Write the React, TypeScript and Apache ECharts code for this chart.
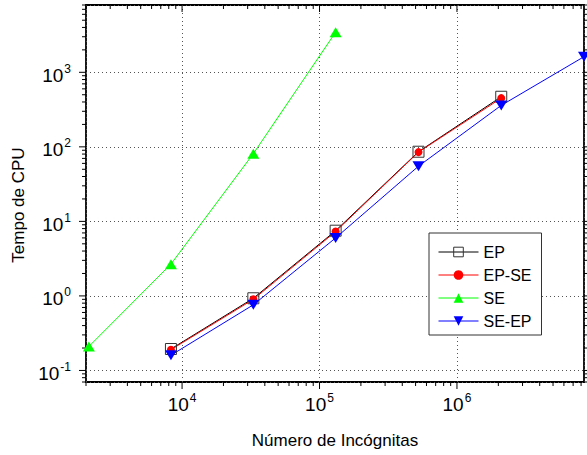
import React, { useEffect, useRef } from "react";
import * as echarts from "echarts";

const FONT = "'Liberation Sans', Arial, Helvetica, sans-serif";

// Number of unknowns (x) per run
const xSE = [2100, 8300, 33000, 131000];
const xEP = [8300, 33000, 131000, 525000, 2100000];
const xSEEP = [8300, 33000, 131000, 525000, 2100000, 8400000];

// CPU time
const yEP = [0.194, 0.93, 7.5, 86, 470];
const yEPSE = [0.19, 0.9, 7.3, 85, 450];
const ySE = [0.21, 2.67, 81, 3450];
const ySEEP = [0.16, 0.76, 6.0, 55, 360, 1620];

const seriesNames = ["EP", "EP-SE", "SE", "SE-EP"];
const xTitle = "Número de Incógnitas";
const yTitle = "Tempo de CPU";

const X_MIN = 2000;
const X_MAX = 8400000;
const Y_MIN = 0.07;
const Y_MAX = 8000;

// decorative tick positions (values), minor and major
function logTicks(min: number, max: number) {
  const out: [number, number][] = [];
  const lo = Math.floor(Math.log10(min));
  const hi = Math.ceil(Math.log10(max));
  for (let e = lo; e <= hi; e++) {
    for (let m = 1; m <= 9; m++) {
      const v = m * Math.pow(10, e);
      if (v >= min * 0.999 && v <= max * 1.001) out.push([v, m === 1 ? 1 : 0]);
    }
  }
  return out;
}

function pair(xs: number[], ys: number[]) {
  return xs.map((x, i) => [x, ys[i]]);
}

export default function App() {
  const ref = useRef<HTMLDivElement>(null);
  useEffect(() => {
    if (!ref.current) return;
    const chart = echarts.init(ref.current, undefined, { renderer: "svg" });

    const xt = logTicks(X_MIN, X_MAX).map(([v, m]) => [v, 1, 0, m]);
    const yt = logTicks(Y_MIN, Y_MAX).map(([v, m]) => [10000, v, 1, m]);

    const labelFmt = (v: number) => {
      const e = Math.round(Math.log10(v));
      return `{b|10}{s|${e}}`;
    };
    const rich = {
      b: { fontSize: 19, fontFamily: FONT, color: "#000", padding: [6, 0, 0, 0] },
      s: { fontSize: 12, fontFamily: FONT, color: "#000", padding: [0, 0, 7, 1] },
    };

    chart.setOption({
      animation: false,
      backgroundColor: "#fff",
      grid: {
        left: 86,
        right: 3,
        top: 5,
        bottom: 73,
        show: true,
        borderColor: "#000",
        borderWidth: 1.8,
        backgroundColor: "transparent",
      },
      legend: {
        data: seriesNames,
        orient: "vertical",
        left: 429,
        top: 233,
        itemWidth: 40,
        itemHeight: 12,
        itemGap: 7,
        padding: [11, 10, 6, 9],
        backgroundColor: "#fff",
        borderColor: "#333",
        borderWidth: 1,
        borderRadius: 0,
        lineStyle: { width: 1 },
        itemStyle: { borderWidth: 1 },
        textStyle: { fontFamily: FONT, fontSize: 16, color: "#000" },
      },
      graphic: [
        {
          type: "text",
          x: 18,
          y: 205,
          rotation: Math.PI / 2,
          style: {
            text: yTitle,
            fontFamily: FONT,
            fontSize: 17,
            fill: "#000",
            align: "center",
            verticalAlign: "middle",
          },
        },
      ],
      xAxis: {
        type: "log",
        logBase: 10,
        min: X_MIN,
        max: X_MAX,
        name: xTitle,
        nameLocation: "middle",
        nameGap: 50,
        nameTextStyle: { fontFamily: FONT, fontSize: 17, color: "#000" },
        axisLine: { show: false },
        axisTick: { show: false },
        axisLabel: {
          formatter: labelFmt,
          rich,
          margin: 7,
          showMinLabel: false,
          showMaxLabel: false,
        },
        splitLine: { show: true, lineStyle: { color: "#555", type: [1, 3], width: 1 } },
        minorTick: { show: false },
      },
      yAxis: {
        type: "log",
        logBase: 10,
        min: Y_MIN,
        max: Y_MAX,
        axisLine: { show: false },
        axisTick: { show: false },
        axisLabel: {
          formatter: labelFmt,
          rich,
          margin: 15,
          showMinLabel: false,
          showMaxLabel: false,
        },
        splitLine: { show: true, lineStyle: { color: "#555", type: [1, 3], width: 1 } },
      },
      series: [
        {
          name: "EP",
          type: "line",
          data: pair(xEP, yEP),
          symbol: "rect",
          symbolSize: 11,
          lineStyle: { color: "#000", width: 1 },
          itemStyle: { color: "rgba(255,255,255,0)", borderColor: "#333", borderWidth: 1 },
        },
        {
          name: "EP-SE",
          type: "line",
          data: pair(xEP, yEPSE),
          symbol: "circle",
          symbolSize: 8,
          lineStyle: { color: "#ff0000", width: 1 },
          itemStyle: { color: "#ff0000" },
        },
        {
          name: "SE",
          type: "line",
          data: pair(xSE, ySE),
          symbol: "triangle",
          symbolSize: [12, 10],
          lineStyle: { color: "#00ff00", width: 1 },
          itemStyle: { color: "#00ff00" },
        },
        {
          name: "SE-EP",
          type: "line",
          data: pair(xSEEP, ySEEP),
          symbol: "triangle",
          symbolRotate: 180,
          symbolSize: [12, 10],
          lineStyle: { color: "#0000ff", width: 1 },
          itemStyle: { color: "#0000ff" },
        },
        {
          name: "ticks",
          type: "custom",
          silent: true,
          clip: false,
          data: [...xt, ...yt],
          encode: { x: 0, y: 1 },
          renderItem: (params: any, api: any) => {
            const cs = params.coordSys;
            const axis = api.value(2);
            const major = api.value(3) === 1;
            const len = major ? 7 : 4;
            const st = { stroke: "#000", lineWidth: 1 };
            if (axis === 0) {
              const px = api.coord([api.value(0), 1])[0];
              const bottom = cs.y + cs.height;
              return {
                type: "group",
                children: [
                  { type: "line", shape: { x1: px, y1: bottom, x2: px, y2: bottom + len }, style: st },
                  { type: "line", shape: { x1: px, y1: cs.y, x2: px, y2: cs.y + len }, style: st },
                ],
              };
            }
            const py = api.coord([10000, api.value(1)])[1];
            const right = cs.x + cs.width;
            return {
              type: "group",
              children: [
                { type: "line", shape: { x1: cs.x - len, y1: py, x2: cs.x, y2: py }, style: st },
                { type: "line", shape: { x1: right, y1: py, x2: right + len, y2: py }, style: st },
              ],
            };
          },
          z: 1,
        },
      ],
    });
    return () => chart.dispose();
  }, []);
  return (
    <div
      ref={ref}
      style={{ position: "absolute", left: 0, top: 0, width: 587, height: 455 }}
    />
  );
}
